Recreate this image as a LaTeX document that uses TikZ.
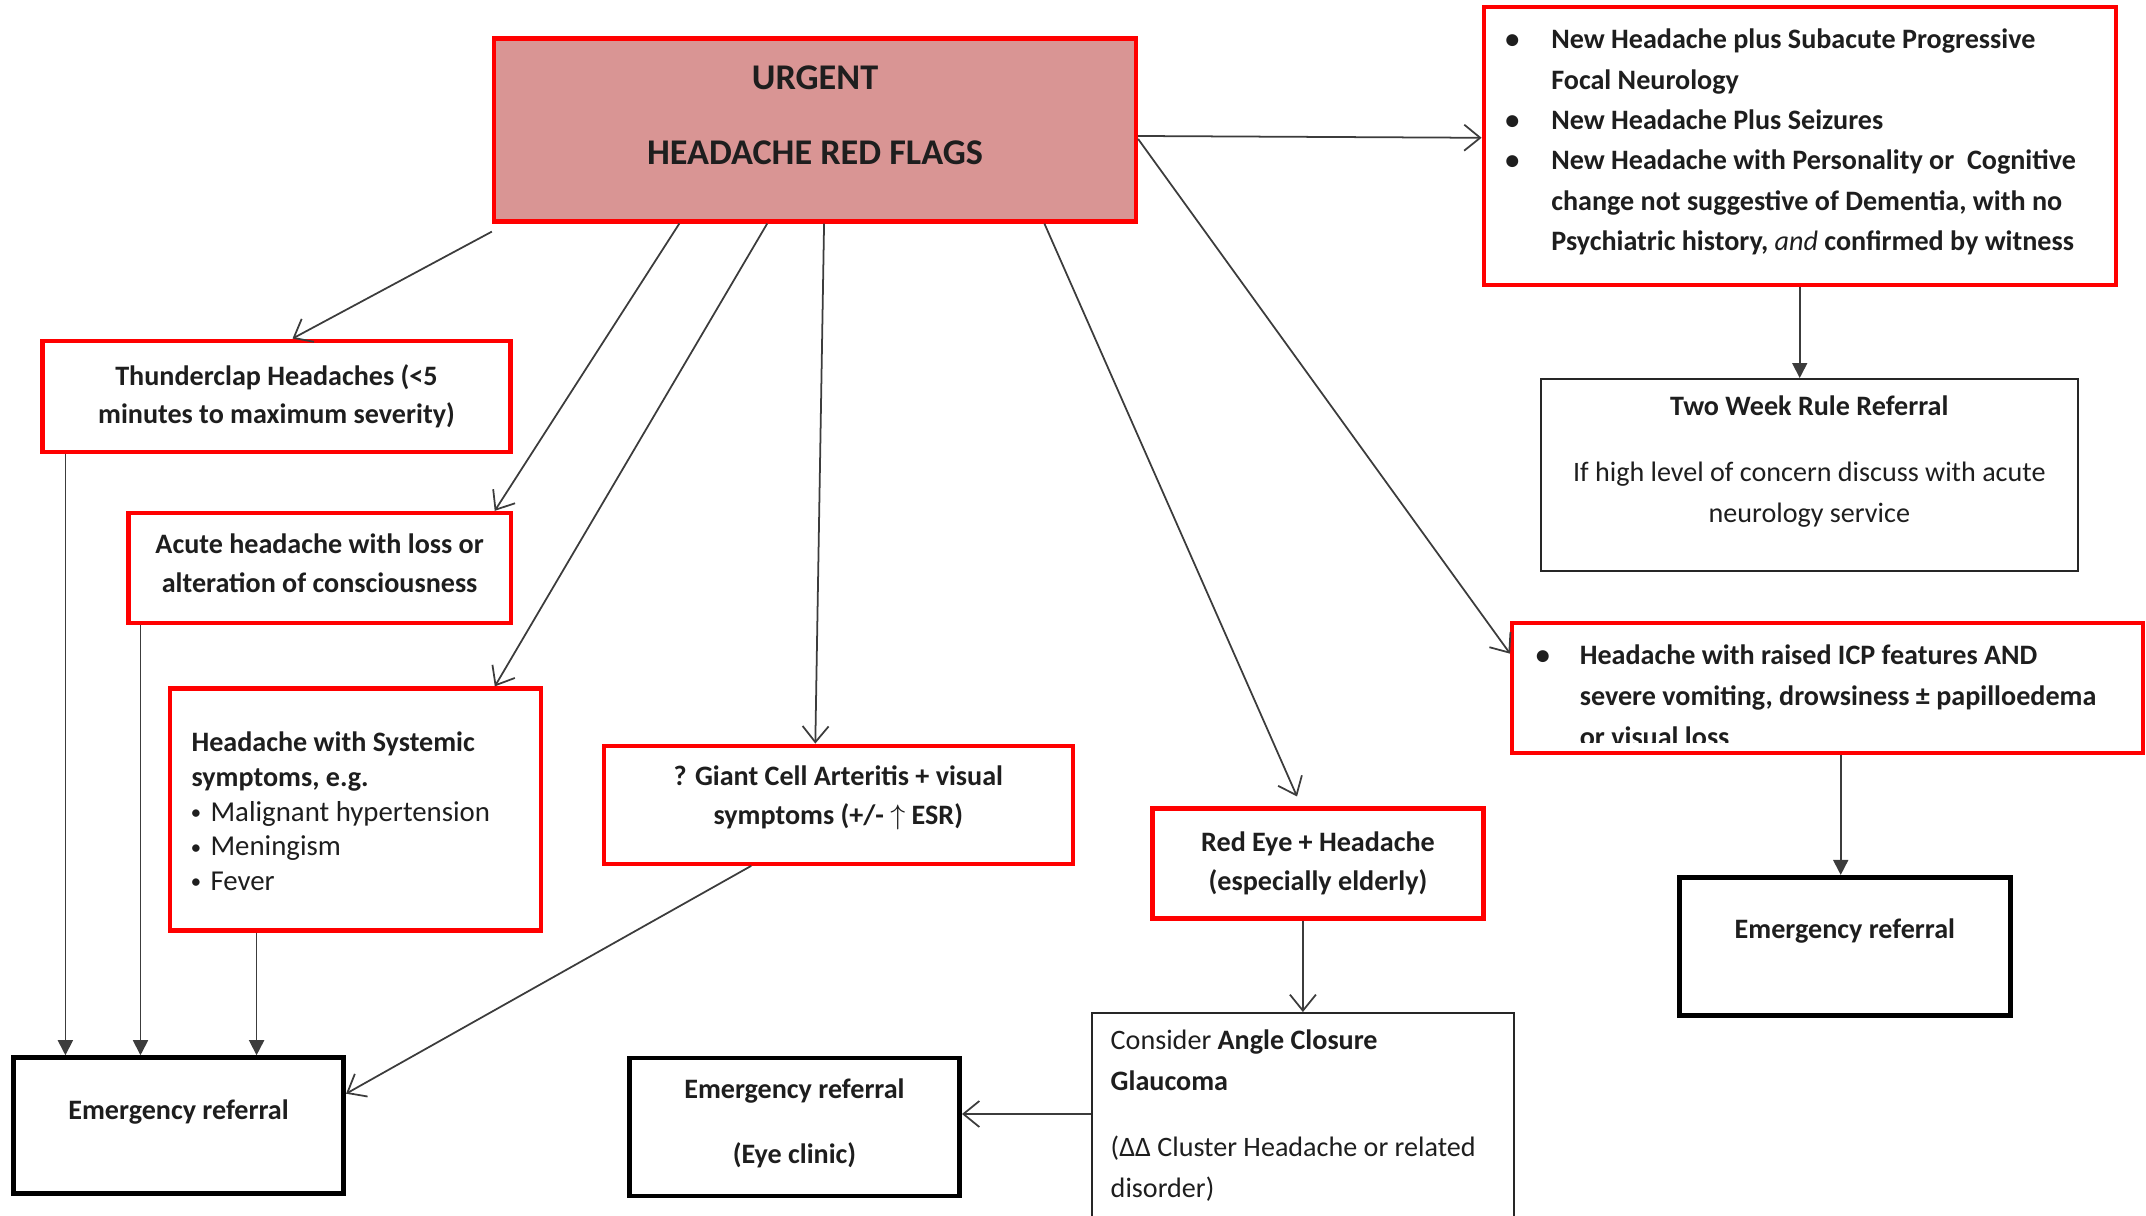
\documentclass[tikz,border=0pt]{standalone}
\usepackage{fontspec}
\setmainfont{Carlito}
\usetikzlibrary{arrows.meta,calc}
\definecolor{flagred}{HTML}{FF0000}
\definecolor{flagpink}{HTML}{D99594}
\definecolor{inkgray}{HTML}{1E1E1E}
\definecolor{arrowgray}{HTML}{3C3C3C}

\begin{document}
\begin{tikzpicture}[
    redbox/.style={draw=flagred, line width=1.2pt, fill=white, inner sep=2pt, align=center,
      font=\fontsize{8}{11}\selectfont\bfseries, text=inkgray},
    blackbox/.style={draw=black, line width=1.4pt, fill=white, inner sep=2pt, align=center,
      font=\fontsize{8}{11.5}\selectfont\bfseries, text=inkgray},
    thinbox/.style={draw=black!85, line width=0.5pt, fill=white},
    boxsize/.style 2 args={minimum width=#1, minimum height=#2},
    lbl/.style={font=\fontsize{8}{11.5}\selectfont\bfseries, inner sep=0pt, text=inkgray},
    flow/.style={-{Straight Barb[length=1.6mm,width=2.6mm]}, arrowgray, line width=0.5pt},
    flowfill/.style={-{Triangle[length=1.5mm,width=1.5mm]}, arrowgray, line width=0.5pt}
  ]
  \useasboundingbox (0,0) rectangle (21.46,-12.153);

  % Boxes
  \node[redbox, fill=flagpink, boxsize={6.42cm}{1.83cm}] (main) at (8.150,-1.300) {};
  \node[redbox, boxsize={6.32cm}{2.78cm}] (topright) at (17.997,-1.458) {};
  \node[redbox, boxsize={4.68cm}{1.11cm}] (thunder) at (2.765,-3.962)
    {Thunderclap Headaches (<5\\minutes to maximum severity)};
  \node[redbox, boxsize={3.82cm}{1.10cm}] (acute) at (3.196,-5.680) {};
  \node[redbox, boxsize={3.71cm}{2.42cm}] (systemic) at (3.552,-8.095) {};
  \node[redbox, boxsize={4.69cm}{1.18cm}] (gca) at (8.383,-8.047) {};
  \node[redbox, boxsize={3.31cm}{1.10cm}] (redeye) at (13.180,-8.636)
    {Red Eye + Headache\\(especially elderly)};
  \node[thinbox, boxsize={5.37cm}{1.92cm}] (twoweek) at (18.093,-4.749) {};
  \node[redbox, boxsize={6.31cm}{1.30cm}] (icp) at (18.277,-6.877) {};
  \node[blackbox, boxsize={3.30cm}{1.36cm}] (emergleft) at (1.786,-11.257) {};
  \node[blackbox, boxsize={3.30cm}{1.38cm}] (eyeclinic) at (7.945,-11.270) {};
  \node[thinbox, boxsize={4.22cm}{2.17cm}] (glaucoma) at (13.029,-11.214) {};
  \node[blackbox, boxsize={3.31cm}{1.38cm}] (emergright) at (18.449,-9.464) {};

  % Texts
  \node[lbl, font=\fontsize{10.3}{12.4}\selectfont\bfseries, anchor=north] (maintxt)
    at ([yshift=-0.22cm]main.north)
    {\begin{tabular}{@{}c@{}}URGENT\\[9pt]HEADACHE RED FLAGS\end{tabular}};
  \node[lbl, anchor=north west] (toptxt) at ($(topright.north west)+(0.23,-0.15)$)
    {\begin{tabular}{@{}p{0.46cm}@{}l@{}}
      \textbullet & New Headache plus Subacute Progressive\\
                  & Focal Neurology\\
      \textbullet & New Headache Plus Seizures\\
      \textbullet & New Headache with Personality or\ \ Cognitive\\
                  & change not suggestive of Dementia, with no\\
                  & Psychiatric history, {\mdseries\itshape and} confirmed by witness
    \end{tabular}};
  \node[lbl, font=\fontsize{8}{11}\selectfont\bfseries, align=center] (acutetxt)
    at ([yshift=0.05cm]acute.center)
    {Acute headache with loss or\\alteration of consciousness};
  \node[lbl, font=\fontsize{8}{9.9}\selectfont\bfseries, anchor=north west] (systxt)
    at ($(systemic.north west)+(0.233,-0.40)$)
    {\begin{tabular}{@{}p{0.19cm}@{}l@{}}
      \multicolumn{2}{@{}l@{}}{Headache with Systemic}\\
      \multicolumn{2}{@{}l@{}}{symptoms, e.g.}\\
      \raisebox{0.2ex}{\tiny\textbullet} & \mdseries\fontsize{8.2}{9.9}\selectfont Malignant hypertension\\
      \raisebox{0.2ex}{\tiny\textbullet} & \mdseries\fontsize{8.2}{9.9}\selectfont Meningism\\
      \raisebox{0.2ex}{\tiny\textbullet} & \mdseries\fontsize{8.2}{9.9}\selectfont Fever
    \end{tabular}};
  \node[lbl, font=\fontsize{8}{11}\selectfont\bfseries, align=center] (gcatxt)
    at ([yshift=0.07cm]gca.center)
    {? Giant Cell Arteritis + visual\\symptoms (+/- $\uparrow$ ESR)};
  \node[lbl, font=\fontsize{8}{11.7}\selectfont\bfseries, anchor=north] (twotxt)
    at ([yshift=-0.08cm]twoweek.north)
    {\begin{tabular}{@{}c@{}}
      Two Week Rule Referral\\[7pt]
      \mdseries If high level of concern discuss with acute\\
      \mdseries neurology service
    \end{tabular}};
  \begin{scope}
    \clip (icp.north west) rectangle ([yshift=0.12cm]icp.south east);
    \node[lbl, font=\fontsize{8}{11.6}\selectfont\bfseries, anchor=north west] (icptxt)
      at ($(icp.north west)+(0.25,-0.15)$)
      {\begin{tabular}{@{}p{0.44cm}@{}l@{}}
        \textbullet & Headache with raised ICP features AND\\
                    & severe vomiting, drowsiness ± papilloedema\\
                    & or visual loss
      \end{tabular}};
  \end{scope}
  \node[lbl, anchor=base] (emergltxt) at ($(emergleft.center)+(0,0.06)$) {Emergency referral};
  \node[lbl, font=\fontsize{8}{11.5}\selectfont\bfseries, align=center] (eyetxt)
    at ([yshift=0.04cm]eyeclinic.center) {Emergency referral\\[7pt](Eye clinic)};
  \node[lbl, anchor=base] (emergrtxt) at ($(emergright.center)+(0,0.075)$) {Emergency referral};
  \node[lbl, font=\fontsize{8}{11.7}\selectfont, anchor=north west] (glauctxt)
    at ($(glaucoma.north west)+(0.19,-0.08)$)
    {\begin{tabular}{@{}l@{}}
      Consider \textbf{Angle Closure}\\
      \textbf{Glaucoma}\\[7pt]
      (ΔΔ Cluster Headache or related\\
      disorder)
    \end{tabular}};

  % Arrows from the red flags box
  \draw[flow] ([yshift=-0.08cm]main.south west) -- ([xshift=0.16cm]thunder.north);
  \draw[flow] ($(main.south west)!0.29!(main.south east)$) -- ([xshift=-0.18cm]acute.north east);
  \draw[flow] ($(main.south west)!0.426!(main.south east)$) -- ([xshift=-0.48cm]systemic.north east);
  \draw[flow] ($(main.south west)!0.514!(main.south east)$) -- ([xshift=-0.23cm]gca.north);
  \draw[flow] ($(main.south west)!0.855!(main.south east)$) -- ([xshift=-0.21cm,yshift=0.1cm]redeye.north);
  \draw[flow] ([yshift=-0.06cm]main.east) -- ([yshift=0.08cm]topright.west);
  \draw[flow] ([yshift=-0.09cm]main.east) -- ([yshift=0.34cm]icp.west);

  % Onward arrows
  \draw[flowfill] (topright.south) -- (topright.south |- twoweek.north);
  \draw[flowfill] ([xshift=0.13cm]icp.south) -- ([xshift=0.13cm]icp.south |- emergright.north);
  \draw[flow] (redeye.south -| glaucoma.north) -- (glaucoma.north);
  \coordinate (eyein) at ([yshift=0.13cm]eyeclinic.east);
  \draw[flow] (glaucoma.west |- eyein) -- (eyein);
  \draw[flow] ([xshift=-0.87cm]gca.south) -- ([yshift=0.32cm]emergleft.east);
  \foreach \src/\dx in {thunder/0.25, acute/0.14, systemic/0.89}
    \draw[flowfill] ([xshift=\dx cm]\src.south west) -- ([xshift=\dx cm]\src.south west |- emergleft.north);
\end{tikzpicture}
\end{document}
